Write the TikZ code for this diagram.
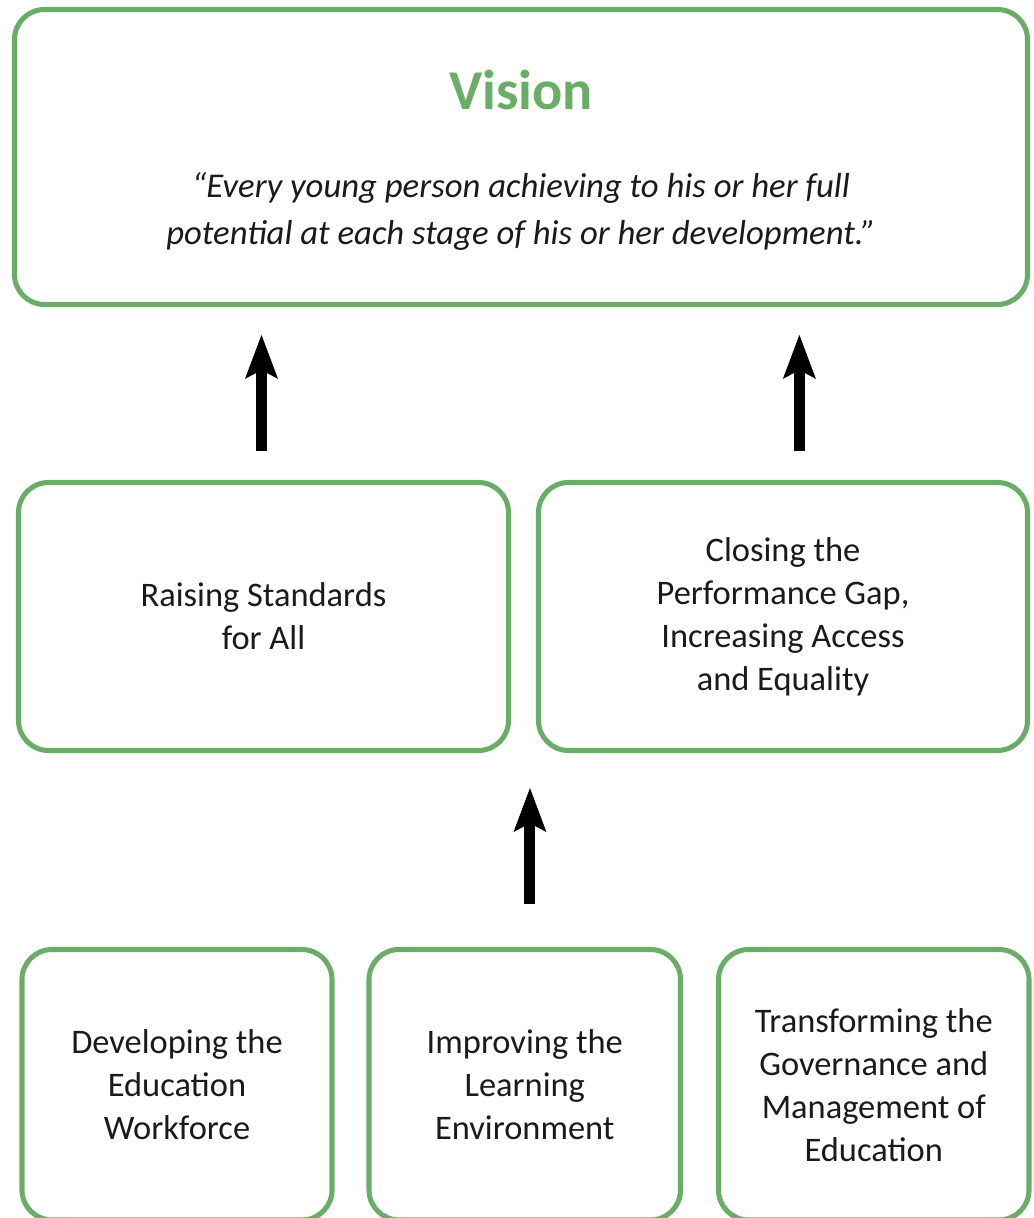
\documentclass[tikz,border=0pt]{standalone}
\usepackage{fontspec}
\setmainfont{Carlito}
\usetikzlibrary{arrows.meta, positioning}
\definecolor{leaf}{HTML}{6AAD67}
\definecolor{ink}{HTML}{1A1A1A}

\begin{document}
\begin{tikzpicture}[
  box/.style={draw=leaf, rectangle, rounded corners=0.75cm, line width=3.6pt, outer sep=0pt, inner sep=0pt, align=center, text=ink, font=\fontsize{24.5}{30.6}\selectfont},
  lift/.style={->, line width=7.8pt},
  >={Stealth[length=1.1cm, width=0.825cm, inset=0.22cm, line width=0pt]}
]
\useasboundingbox (0,0) rectangle (25.825,30.45);
\clip (0,0) rectangle (25.825,30.45);

% vision box with its heading and quote
\node[box, minimum width=25.325cm, minimum height=7.375cm] (vision) at (13.025,26.525) {};
\node[text=leaf, font=\fontsize{40}{48}\selectfont\bfseries, anchor=base] (visiontitle) at ([yshift=-2.51cm]vision.north) {Vision};
\node[align=center, text=ink, font=\fontsize{24.7}{33.4}\selectfont\itshape] (visionquote) at ([yshift=-5.06cm]vision.north) {“Every young person achieving to his or her full\\potential at each stage of his or her development.”};

% the two goals
\node[box, minimum width=12.25cm, minimum height=6.7cm] (raising) at (6.5875,15.0375) {Raising Standards\\for All};
\node[box, minimum width=12.225cm, minimum height=6.7cm] (closing) at (19.575,15.0375) {Closing the\\Performance Gap,\\Increasing Access\\and Equality};

% the three enablers
\node[box, minimum width=7.75cm, minimum height=6.7625cm] (workforce) at (4.425,3.33125) {Developing the\\Education\\Workforce};
\node[box, minimum width=7.7875cm, minimum height=6.7625cm] (learning) at (13.119,3.33125) {Improving the\\Learning\\Environment};
\node[box, minimum width=7.7625cm, minimum height=6.7625cm] (governance) at (21.844,3.33125) {Transforming the\\Governance and\\Management of\\Education};

\draw[lift, shorten <=0.79cm, shorten >=0.76cm] ([xshift=-0.05cm]raising.north) -- ([xshift=-0.05cm]raising.north |- vision.south);
\draw[lift, shorten <=0.79cm, shorten >=0.76cm] ([xshift=0.41cm]closing.north) -- ([xshift=0.41cm]closing.north |- vision.south);
\draw[lift, shorten <=1.14cm, shorten >=0.94cm] ([xshift=0.13cm]learning.north) -- ([xshift=0.13cm]learning.north |- raising.south);
\end{tikzpicture}
\end{document}
